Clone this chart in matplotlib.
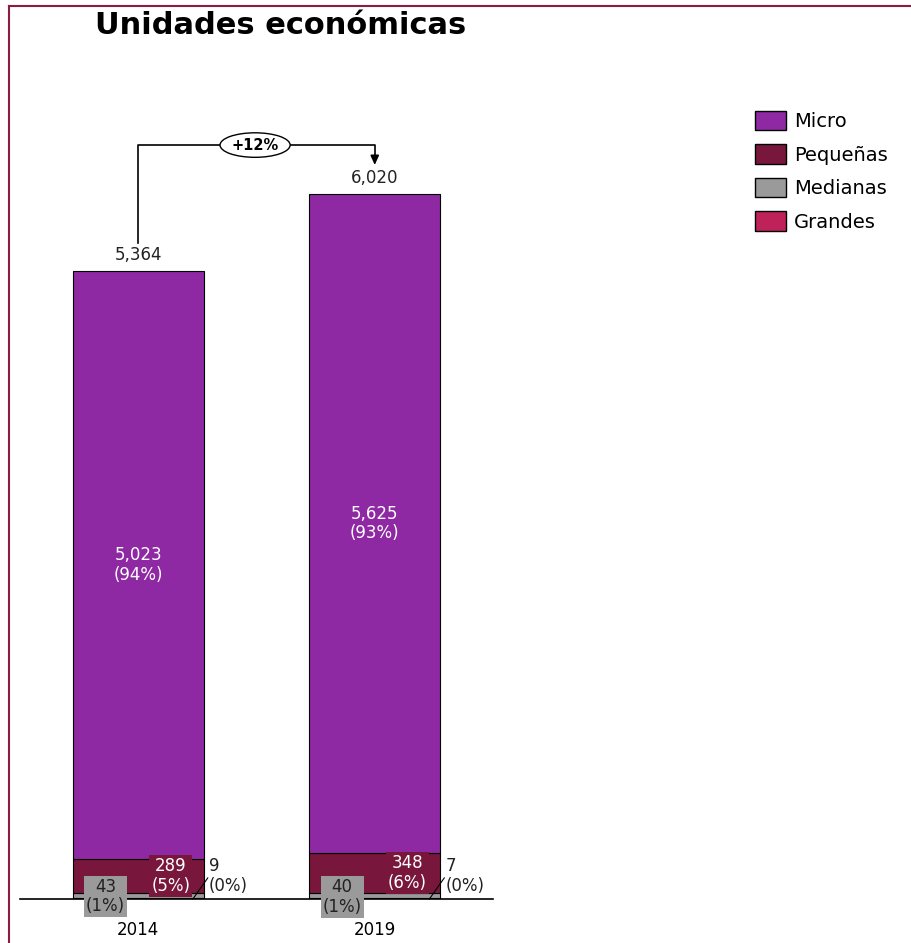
import matplotlib.pyplot as plt
from matplotlib.patches import Patch

plt.rcParams['font.family'] = ['DejaVu Sans']

years = ['2014', '2019']
micro = [5023, 5625]
pequenas = [289, 348]
medianas = [43, 40]
grandes = [9, 7]
micro_pct = ['94%', '93%']
pequenas_pct = ['5%', '6%']
medianas_pct = ['1%', '1%']
grandes_pct = ['0%', '0%']
totales = [5364, 6020]
crecimiento = '+12%'

c_micro = '#8E29A3'
c_peq = '#78173B'
c_med = '#9A9A9A'
c_gra = '#BF2259'
borde = '#8A1C45'

W, H = 911, 943
fig = plt.figure(figsize=(W / 100, H / 100), dpi=100, facecolor='white')

# frame lines on the top and left
fig.add_artist(plt.Line2D([9 / W, 9 / W], [0, 1 - 6 / H], color=borde, lw=1.5))
fig.add_artist(plt.Line2D([9 / W, 1], [1 - 6 / H, 1 - 6 / H], color=borde, lw=1.5))

fig.text(95 / W, 1 - 25 / H, 'Unidades económicas', fontsize=22, fontweight='bold',
         va='center', ha='left')

ax = fig.add_axes([20 / W, 44 / H, 473 / W, 819.5 / H])
ax.set_xlim(-0.5, 1.5)
ax.set_ylim(0, 7000)
for s in ax.spines.values():
    s.set_visible(False)
ax.set_yticks([])

x = [0, 1]
bw = 0.555
b1 = grandes
b2 = [g + m for g, m in zip(grandes, medianas)]
b3 = [a + p for a, p in zip(b2, pequenas)]
ax.bar(x, grandes, bw, color=c_gra, edgecolor='black', lw=0.8)
ax.bar(x, medianas, bw, bottom=b1, color=c_med, edgecolor='black', lw=0.8)
ax.bar(x, pequenas, bw, bottom=b2, color=c_peq, edgecolor='black', lw=0.8)
ax.bar(x, micro, bw, bottom=b3, color=c_micro, edgecolor='black', lw=0.8)
ax.axhline(0, color='black', lw=1.2, zorder=4, clip_on=False)

ax.set_xticks(x)
ax.set_xticklabels(years, fontsize=12)
ax.tick_params(axis='x', length=0, pad=16)

fs = 12
for i in range(2):
    ax.text(x[i], b3[i] + micro[i] / 2, f'{micro[i]:,}\n({micro_pct[i]})', ha='center',
            va='center', color='white', fontsize=fs, linespacing=1.1)
    ax.text(x[i] + 0.138, b2[i] + pequenas[i] / 2, f'{pequenas[i]:,}\n({pequenas_pct[i]})',
            ha='center', va='center', color='white', fontsize=fs, linespacing=1.1,
            bbox=dict(boxstyle='square,pad=0.12', fc=c_peq, ec='none'))
    ax.text(x[i] - 0.138, b1[i] + medianas[i] / 2 - 10, f'{medianas[i]:,}\n({medianas_pct[i]})',
            ha='center', va='center', color='#222222', fontsize=fs, linespacing=1.1,
            bbox=dict(boxstyle='square,pad=0.12', fc=c_med, ec='none'), zorder=5)
    ax.plot([x[i] + 0.231, x[i] + 0.294], [0, 180], color='black', lw=0.8, clip_on=False)
    ax.text(x[i] + 0.299, 197, f'{grandes[i]:,}\n({grandes_pct[i]})', ha='left',
            va='center', color='#222222', fontsize=fs, linespacing=1.1)
    ax.text(x[i], totales[i] + 60, f'{totales[i]:,}', ha='center', va='bottom',
            fontsize=fs, color='#222222')

# growth bracket between the two totals
y0 = totales[0] + 240
ytop = totales[1] + 420
y1 = totales[1] + 250
ax.plot([x[0], x[0], x[1], x[1]], [y0, ytop, ytop, y1 + 60], color='black', lw=1.2,
        clip_on=False)
ax.annotate('', xy=(x[1], y1), xytext=(x[1], y1 + 80),
            arrowprops=dict(arrowstyle='-|>,head_width=0.25,head_length=0.55', color='black',
                            lw=1.2, shrinkA=0, shrinkB=0))
ax.text(0.494, ytop, crecimiento, ha='center', va='center', fontsize=10.5, fontweight='bold',
        bbox=dict(boxstyle='ellipse,pad=0.08', fc='white', ec='black', lw=1))

handles = [Patch(fc=c_micro, ec='black', label='Micro'),
           Patch(fc=c_peq, ec='black', label='Pequeñas'),
           Patch(fc=c_med, ec='black', label='Medianas'),
           Patch(fc=c_gra, ec='black', label='Grandes')]
fig.legend(handles=handles, loc='upper left', bbox_to_anchor=(755 / W, 1 - 111 / H),
           frameon=False, fontsize=14, handlelength=1.6, handleheight=1.15,
           handletextpad=0.4, labelspacing=0.68, borderpad=0, borderaxespad=0)

fig.savefig('out.png', dpi=100, facecolor='white')
